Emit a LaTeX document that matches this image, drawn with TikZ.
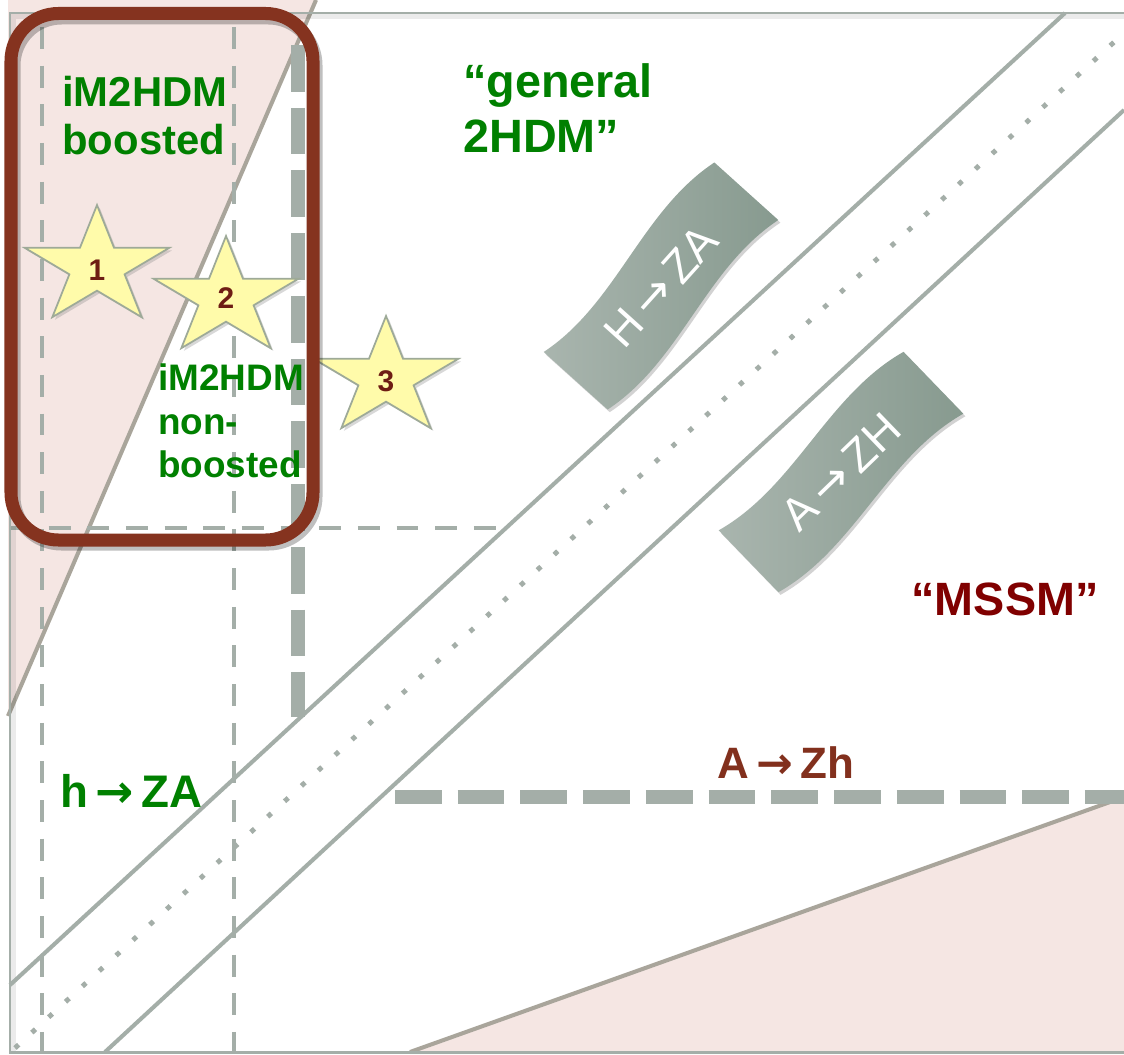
\documentclass[tikz,border=0pt]{standalone}
\usepackage{fontspec}
\setmainfont{Liberation Sans}
\newfontfamily\arrowfont{DejaVu Sans}
\usetikzlibrary{shadows}
\definecolor{lgrey}{HTML}{A4AEA8}
\definecolor{pinkfill}{HTML}{F5E6E3}
\definecolor{pinkline}{HTML}{A9A59B}
\definecolor{boxbrown}{HTML}{85331F}
\definecolor{tgreen}{HTML}{008000}
\definecolor{tdarkred}{HTML}{800000}
\definecolor{tbrown}{HTML}{82301D}
\definecolor{starfill}{HTML}{FFFBAA}
\definecolor{starline}{HTML}{9EAA98}
\definecolor{numbrown}{HTML}{6E1D14}
\definecolor{wavelight}{HTML}{A9B5AE}
\definecolor{wavedark}{HTML}{879A8F}
\tikzset{
  frameline/.style={lgrey, line width=1.7pt},
  diagline/.style={lgrey, line width=2.3pt},
  dotline/.style={lgrey, line width=2.8pt, dash pattern=on 2.8pt off 10.2pt},
  thindash/.style={lgrey, line width=2.8pt, dash pattern=on 12.5pt off 9.5pt},
  thickdash/.style={lgrey, line width=8.5pt, dash pattern=on 26.6pt off 9.1pt},
  pinkedge/.style={pinkline, line width=2.3pt},
  boxsty/.style={boxbrown, line width=7.4pt, rounded corners=27pt},
  boxshadow/.style={black, opacity=0.25, line width=7.4pt, rounded corners=27pt},
  starsty/.style={fill=starfill, draw=starline, line width=1pt, line join=miter,
    drop shadow={opacity=0.3, shadow xshift=1.5pt, shadow yshift=-1.5pt}},
  numsty/.style={inner sep=0pt, text=numbrown, font=\fontsize{17}{20}\selectfont\bfseries},
  wavesty/.style={left color=wavelight, right color=wavedark,
    drop shadow={opacity=0.35, shadow xshift=1.2pt, shadow yshift=-1.5pt}},
  wavetext/.style={inner sep=0pt, text=white, font=\fontsize{26}{30}\selectfont},
  glabel/.style={inner sep=0pt, text=tgreen, align=left},
}
\newcommand\drawstar[2]{%
  \draw[starsty] plot[samples at={0,...,9}, variable=\k]
    ({#1+(1-0.618*mod(\k,2))*76*cos(90+36*\k)}, {#2-(1-0.618*mod(\k,2))*62*sin(90+36*\k)}) -- cycle;}
\newcommand\harr{{\arrowfont\bfseries\,→\,}}
\begin{document}
\begin{tikzpicture}[x=0.02cm, y=-0.02cm]
\useasboundingbox (0,0) rectangle (1124,1054);
\fill[white] (0,0) rectangle (1124,1054);
% pink regions
\fill[pinkfill] (8,0) -- (316,0) -- (8,716) -- cycle;
\fill[pinkfill] (410,1054) -- (1124,797) -- (1124,1054) -- cycle;
\draw[pinkedge] (316,0) -- (8,716);
\draw[pinkedge] (410,1052) -- (1124,797);
% thin dashed lines
\draw[thindash] (42,27) -- (42,1052);
\draw[thindash] (234,27) -- (234,1052);
\draw[thindash] (10,528) -- (500,528);
% frame with faint shadow
\draw[black, opacity=0.08, line width=3pt] (1124,16) -- (13,16) -- (13,1052);
\draw[frameline] (1124,13) -- (10,13) -- (10,1052) -- (1124,1052);
% diagonal lines
\draw[diagline] (10,985) -- (1065,13);
\draw[diagline] (105,1052) -- (1124,110);
\draw[dotline] (15,1048) -- (1124,33);
% thick dashed lines
\draw[thickdash] (298,45) -- (298,717);
\draw[thickdash] (395,797) -- (1124,797);
% banners
\begin{scope}[shift={(661,286)}, rotate=48]
  \path[wavesty] (-127.5,-43) .. controls (-42.5,-21) and (42.5,-65) .. (127.5,-43)
    -- (127.5,43) .. controls (42.5,21) and (-42.5,65) .. (-127.5,43) -- cycle;
\end{scope}
\node[wavetext, rotate=48] (hza) at (661,286) {H{\arrowfont\,→\,}ZA};
\begin{scope}[shift={(841,472)}, rotate=44]
  \path[wavesty] (-128.5,-43) .. controls (-42.8,-21) and (42.8,-65) .. (128.5,-43)
    -- (128.5,43) .. controls (42.8,21) and (-42.8,65) .. (-128.5,43) -- cycle;
\end{scope}
\node[wavetext, rotate=44] (azh) at (841,472) {A{\arrowfont\,→\,}ZH};
% labels
\node[glabel, anchor=north west, font=\fontsize{26.6}{31.2}\selectfont\bfseries] (gen) at (463,63) {“general\\2HDM”};
\node[inner sep=0pt, anchor=base, text=tdarkred, font=\fontsize{26.6}{31.2}\selectfont\bfseries] (mssm) at (1005,615) {“MSSM”};
\node[glabel, anchor=base west, font=\fontsize{26}{30}\selectfont\bfseries] (hzA) at (60,807) {h\harr ZA};
\node[inner sep=0pt, anchor=base west, text=tbrown, font=\fontsize{25}{30}\selectfont\bfseries] (azh2) at (717,778) {A\harr Zh};
\node[glabel, anchor=north west, font=\fontsize{23.8}{27.2}\selectfont\bfseries] (boost) at (62,76) {iM2HDM\\boosted};
\node[glabel, anchor=north west, font=\fontsize{21}{25}\selectfont\bfseries] (nonboost) at (158,363) {iM2HDM\\non-\\boosted};
% stars
\drawstar{97}{267}
\node[numsty] (star1) at (97,270) {1};
\drawstar{226}{298}
\node[numsty] (star2) at (226,298) {2};
\drawstar{386}{378}
\node[numsty] (star3) at (386,381) {3};
% brown box
\draw[boxshadow] (14,18) rectangle (316,544);
\draw[boxsty] (11,13.5) rectangle (313,540);
\end{tikzpicture}
\end{document}
